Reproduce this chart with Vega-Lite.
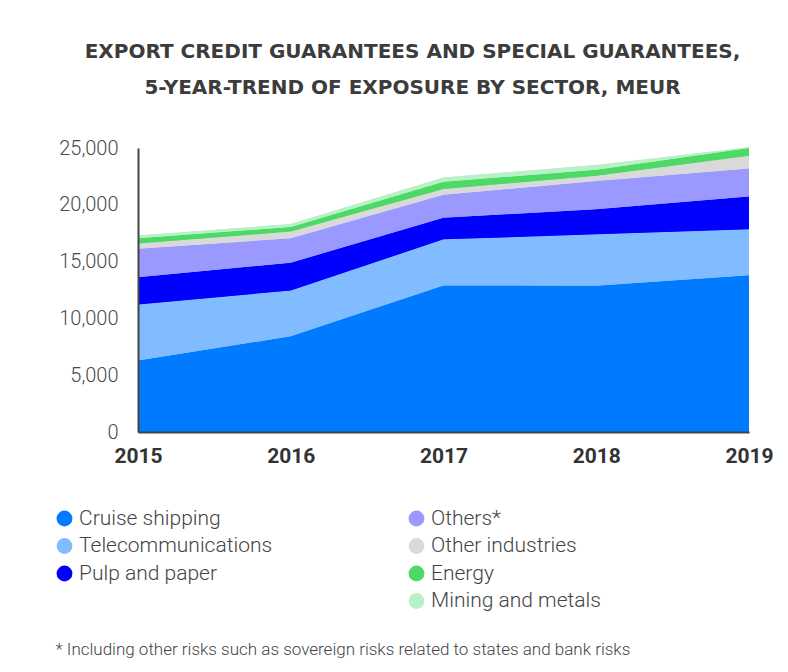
{
  "$schema": "https://vega.github.io/schema/vega-lite/v6.json",
  "width": 611,
  "height": 284,
  "autosize": {"type": "none"},
  "padding": {"left": 138, "top": 148, "right": 39, "bottom": 240},
  "background": "white",
  "title": {
    "text": ["EXPORT CREDIT GUARANTEES AND SPECIAL GUARANTEES,", "5-YEAR-TREND OF EXPOSURE BY SECTOR, MEUR"],
    "font": "DejaVu Sans",
    "fontSize": 20,
    "fontWeight": "bold",
    "color": "#3c3c3c",
    "lineHeight": 36,
    "anchor": "middle",
    "dx": -31,
    "offset": 40
  },
  "data": {
    "values": [
      {"year": "2015", "sector": "Cruise shipping", "rank": 1, "value": 6300},
      {"year": "2015", "sector": "Telecommunications", "rank": 2, "value": 4920},
      {"year": "2015", "sector": "Pulp and paper", "rank": 3, "value": 2410},
      {"year": "2015", "sector": "Others*", "rank": 4, "value": 2510},
      {"year": "2015", "sector": "Other industries", "rank": 5, "value": 460},
      {"year": "2015", "sector": "Energy", "rank": 6, "value": 450},
      {"year": "2015", "sector": "Mining and metals", "rank": 7, "value": 250},
      {"year": "2016", "sector": "Cruise shipping", "rank": 1, "value": 8420},
      {"year": "2016", "sector": "Telecommunications", "rank": 2, "value": 4040},
      {"year": "2016", "sector": "Pulp and paper", "rank": 3, "value": 2440},
      {"year": "2016", "sector": "Others*", "rank": 4, "value": 2150},
      {"year": "2016", "sector": "Other industries", "rank": 5, "value": 590},
      {"year": "2016", "sector": "Energy", "rank": 6, "value": 410},
      {"year": "2016", "sector": "Mining and metals", "rank": 7, "value": 250},
      {"year": "2017", "sector": "Cruise shipping", "rank": 1, "value": 12900},
      {"year": "2017", "sector": "Telecommunications", "rank": 2, "value": 4060},
      {"year": "2017", "sector": "Pulp and paper", "rank": 3, "value": 1910},
      {"year": "2017", "sector": "Others*", "rank": 4, "value": 2010},
      {"year": "2017", "sector": "Other industries", "rank": 5, "value": 500},
      {"year": "2017", "sector": "Energy", "rank": 6, "value": 650},
      {"year": "2017", "sector": "Mining and metals", "rank": 7, "value": 370},
      {"year": "2018", "sector": "Cruise shipping", "rank": 1, "value": 12880},
      {"year": "2018", "sector": "Telecommunications", "rank": 2, "value": 4520},
      {"year": "2018", "sector": "Pulp and paper", "rank": 3, "value": 2200},
      {"year": "2018", "sector": "Others*", "rank": 4, "value": 2500},
      {"year": "2018", "sector": "Other industries", "rank": 5, "value": 450},
      {"year": "2018", "sector": "Energy", "rank": 6, "value": 530},
      {"year": "2018", "sector": "Mining and metals", "rank": 7, "value": 420},
      {"year": "2019", "sector": "Cruise shipping", "rank": 1, "value": 13800},
      {"year": "2019", "sector": "Telecommunications", "rank": 2, "value": 4040},
      {"year": "2019", "sector": "Pulp and paper", "rank": 3, "value": 2890},
      {"year": "2019", "sector": "Others*", "rank": 4, "value": 2470},
      {"year": "2019", "sector": "Other industries", "rank": 5, "value": 1120},
      {"year": "2019", "sector": "Energy", "rank": 6, "value": 680},
      {"year": "2019", "sector": "Mining and metals", "rank": 7, "value": 60}
    ]
  },
  "encoding": {
    "x": {
      "field": "year",
      "type": "ordinal",
      "scale": {"padding": 0},
      "axis": {
        "zindex": 1,
        "labelAngle": 0,
        "labelFont": "Roboto",
        "labelFontSize": 21,
        "labelFontWeight": "bold",
        "labelColor": "#333333",
        "labelPadding": 13,
        "ticks": false,
        "domainColor": "#444444",
        "domainWidth": 2,
        "title": "* Including other risks such as sovereign risks related to states and bank risks",
        "titleFont": "Roboto",
        "titleFontWeight": 300,
        "titleFontSize": 17,
        "titleColor": "#444444",
        "titleX": -83,
        "titleY": 222,
        "titleAlign": "left",
        "titleAnchor": "start",
        "titleBaseline": "alphabetic"
      }
    },
    "y": {
      "field": "value",
      "type": "quantitative",
      "aggregate": "sum",
      "stack": "zero",
      "scale": {"domain": [0, 25000], "nice": false},
      "axis": {
        "zindex": 1,
        "values": [0, 5000, 10000, 15000, 20000, 25000],
        "format": ",d",
        "title": null,
        "grid": false,
        "ticks": false,
        "labelFont": "Roboto",
        "labelFontSize": 20,
        "labelFontWeight": 300,
        "labelColor": "#4a4a4a",
        "labelPadding": 20,
        "domainColor": "#444444",
        "domainWidth": 2
      }
    },
    "order": {"field": "rank", "type": "quantitative", "sort": "ascending"}
  },
  "layer": [
    {
      "mark": {"type": "area", "interpolate": "linear"},
      "encoding": {
        "color": {
          "field": "sector",
          "type": "nominal",
          "scale": {
            "domain": ["Cruise shipping", "Telecommunications", "Pulp and paper", "Others*", "Other industries", "Energy", "Mining and metals"],
            "range": ["#007aff", "#80bcff", "#0000ff", "#9999ff", "#d9d9d9", "#4cd964", "#b8f0c8"]
          },
          "legend": {
            "values": ["Cruise shipping", "Telecommunications", "Pulp and paper"],
            "orient": "none",
            "legendX": -84,
            "legendY": 360,
            "title": null
          }
        }
      }
    },
    {
      "mark": {"type": "area", "interpolate": "linear"},
      "encoding": {
        "color": {
          "field": "sector",
          "type": "nominal",
          "scale": {
            "domain": ["Cruise shipping", "Telecommunications", "Pulp and paper", "Others*", "Other industries", "Energy", "Mining and metals"],
            "range": ["#007aff", "#80bcff", "#0000ff", "#9999ff", "#d9d9d9", "#4cd964", "#b8f0c8"]
          },
          "legend": {
            "values": ["Others*", "Other industries", "Energy", "Mining and metals"],
            "orient": "none",
            "legendX": 268,
            "legendY": 360,
            "title": null
          }
        }
      }
    }
  ],
  "resolve": {"scale": {"color": "independent"}, "legend": {"color": "independent"}},
  "config": {
    "view": {"stroke": null},
    "legend": {
      "direction": "vertical",
      "symbolType": "circle",
      "symbolSize": 250,
      "symbolStrokeWidth": 0,
      "labelFont": "Roboto",
      "labelFontSize": 21,
      "labelFontWeight": 300,
      "labelColor": "#444444",
      "labelOffset": 4,
      "labelLimit": 400,
      "rowPadding": 5.5,
      "padding": 0
    }
  }
}
